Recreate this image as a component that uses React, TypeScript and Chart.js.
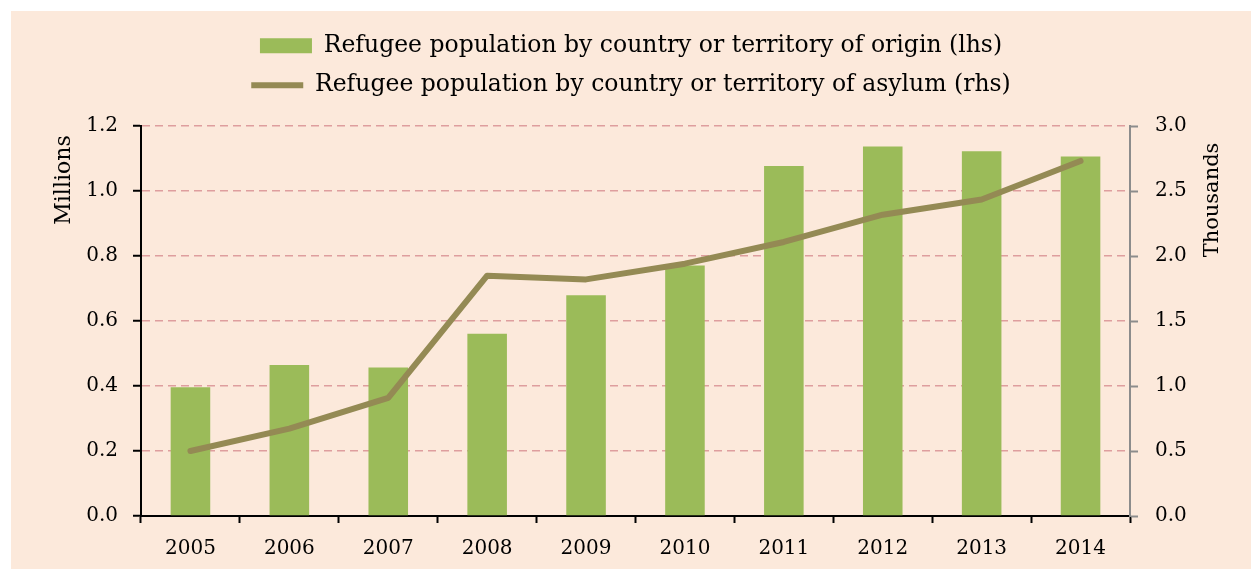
import React, { useEffect, useRef } from "react";
import { Chart, registerables } from "chart.js";

Chart.register(...registerables);

// ---- data ----
const years = ["2005", "2006", "2007", "2008", "2009", "2010", "2011", "2012", "2013", "2014"];
const originMillions = [0.396, 0.465, 0.457, 0.561, 0.679, 0.771, 1.077, 1.137, 1.122, 1.106];
const asylumThousands = [0.5, 0.672, 0.908, 1.849, 1.82, 1.941, 2.108, 2.318, 2.434, 2.731];
const originLabel = "Refugee population by country or territory of origin (lhs)";
const asylumLabel = "Refugee population by country or territory of asylum (rhs)";
const leftTitle = "Millions";
const rightTitle = "Thousands";
const leftMax = 1.2;
const leftStep = 0.2;
const rightMax = 3.0;
const rightStep = 0.5;

const FONT = '"DejaVu Serif", serif';

const axisTitlesPlugin = {
  id: "axisTitles",
  afterDraw(chart: any) {
    const { ctx, chartArea } = chart;
    const yl = chart.scales.y;
    const yr = chart.scales.y1;
    ctx.save();
    ctx.font = `22px ${FONT}`;
    ctx.fillStyle = "#000";
    ctx.textAlign = "center";
    ctx.textBaseline = "middle";
    ctx.translate(yl.left + 53, chartArea.top + 54);
    ctx.rotate(-Math.PI / 2);
    ctx.fillText(leftTitle, 0, 0);
    ctx.restore();
    ctx.save();
    ctx.font = `21px ${FONT}`;
    ctx.fillStyle = "#000";
    ctx.textAlign = "center";
    ctx.textBaseline = "middle";
    ctx.translate(yr.right - 38, chartArea.top + 74);
    ctx.rotate(-Math.PI / 2);
    ctx.fillText(rightTitle, 0, 0);
    ctx.restore();
  },
};

export default function App() {
  const ref = useRef<HTMLCanvasElement | null>(null);
  useEffect(() => {
    if (!ref.current) return;
    const chart = new Chart(ref.current, {
      type: "bar",
      data: {
        labels: years,
        datasets: [
          {
            type: "line",
            label: asylumLabel,
            data: asylumThousands,
            yAxisID: "y1",
            borderColor: "#948A54",
            backgroundColor: "#948A54",
            borderWidth: 6,
            borderCapStyle: "round",
            borderJoinStyle: "round",
            pointRadius: 0,
            pointHoverRadius: 0,
            pointStyle: "line",
            tension: 0,
          } as any,
          {
            type: "bar",
            label: originLabel,
            data: originMillions,
            yAxisID: "y",
            backgroundColor: "#9BBB59",
            borderWidth: 0,
            barPercentage: 0.4,
            categoryPercentage: 1,
            pointStyle: "rect",
          } as any,
        ],
      },
      options: {
        animation: false,
        responsive: false,
        maintainAspectRatio: false,
        layout: { padding: { top: 7, left: 0, right: 0, bottom: 0 } },
        plugins: {
          tooltip: { enabled: false },
          legend: {
            display: true,
            position: "top",
            reverse: true,
            labels: {
              usePointStyle: true,
              pointStyleWidth: 52,
              boxHeight: 15,
              padding: 16,
              color: "#000",
              font: { family: FONT, size: 23.5 },
            },
          },
        },
        scales: {
          xTop: {
            type: "category",
            position: "top",
            display: true,
            grid: { display: false, drawTicks: false },
            border: { display: false },
            ticks: { display: false },
            afterFit: (s: any) => {
              s.height = 19;
            },
          },
          x: {
            type: "category",
            position: "bottom",
            offset: true,
            grid: {
              offset: true,
              drawOnChartArea: false,
              drawTicks: true,
              tickLength: 7,
              tickColor: "#000",
              tickWidth: 2,
            },
            border: { display: true, color: "#000", width: 2 },
            ticks: {
              color: "#000",
              font: { family: FONT, size: 20 },
              padding: 14,
              maxRotation: 0,
            },
            afterFit: (s: any) => {
              s.height = 53;
            },
          },
          y: {
            type: "linear",
            position: "left",
            min: 0,
            max: leftMax,
            ticks: {
              stepSize: leftStep,
              color: "#000",
              font: { family: FONT, size: 20 },
              padding: 15,
              callback: (v: any) => Number(v).toFixed(1),
            },
            grid: {
              color: "#DE9E9E",
              lineWidth: 1.5,
              drawTicks: true,
              tickLength: 8,
              tickColor: "#000",
              tickWidth: 2,
            },
            border: { display: true, color: "#000", width: 2, dash: [8, 5] },
            afterFit: (s: any) => {
              s.width = 130;
            },
          },
          y1: {
            type: "linear",
            position: "right",
            min: 0,
            max: rightMax,
            ticks: {
              stepSize: rightStep,
              color: "#000",
              font: { family: FONT, size: 20 },
              padding: 17,
              callback: (v: any) => Number(v).toFixed(1),
            },
            grid: {
              drawOnChartArea: false,
              drawTicks: true,
              tickLength: 8,
              tickColor: "#8C8C8C",
              tickWidth: 2,
            },
            border: { display: true, color: "#8C8C8C", width: 2 },
            afterFit: (s: any) => {
              s.width = 121;
            },
          },
        },
      } as any,
      plugins: [axisTitlesPlugin],
    });
    return () => chart.destroy();
  }, []);

  return (
    <div
      style={{
        position: "absolute",
        left: 11,
        top: 11,
        width: 1240,
        height: 558,
        background: "#FCE9DB",
      }}
    >
      <canvas ref={ref} width={1240} height={558} style={{ display: "block", width: 1240, height: 558 }} />
    </div>
  );
}
